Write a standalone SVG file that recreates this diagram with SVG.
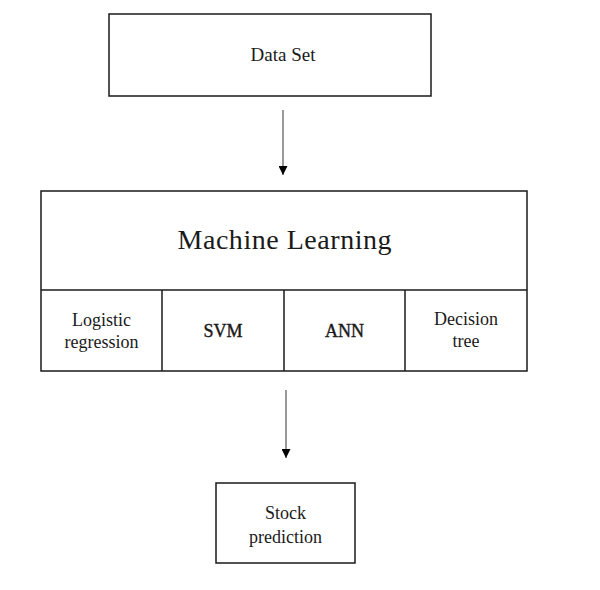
<svg xmlns="http://www.w3.org/2000/svg" width="600" height="590" viewBox="0 0 600 590">
<style>
.box{fill:#fff;stroke:#1a1a1a;stroke-width:1.5}
.ln{stroke:#1a1a1a;stroke-width:1.5}
.t{font-family:"Liberation Serif","Times New Roman",serif;fill:#1a1a1a;text-anchor:middle}
.s{font-size:18px}
.b{font-size:18px;stroke:#1a1a1a;stroke-width:0.4}
.con{stroke:#555;stroke-width:1.2;fill:none}
</style>
<defs>
<marker id="ah" viewBox="0 0 10 10" refX="10" refY="5" markerWidth="10" markerHeight="9" markerUnits="userSpaceOnUse" orient="auto">
<path d="M0,0 L10,5 L0,10 Z" fill="#000"/>
</marker>
</defs>
<rect width="600" height="590" fill="#fff"/>
<g id="dataset">
<rect class="box" x="109" y="14" width="322" height="82"/>
<text class="t" x="283" y="61" font-size="19">Data Set</text>
</g>
<g id="ml">
<rect class="box" x="41" y="191" width="486" height="180"/>
<line class="ln" x1="41" y1="290" x2="527" y2="290"/>
<line class="ln" x1="162" y1="290" x2="162" y2="371"/>
<line class="ln" x1="284" y1="290" x2="284" y2="371"/>
<line class="ln" x1="405" y1="290" x2="405" y2="371"/>
<text class="t" x="284.5" y="249" font-size="28" textLength="214" lengthAdjust="spacing">Machine Learning</text>
</g>
<g id="logistic">
<text class="t s" x="101.5" y="326">Logistic</text>
<text class="t s" x="101.5" y="348">regression</text>
</g>
<g id="svm">
<text class="t b" x="223" y="337">SVM</text>
</g>
<g id="ann">
<text class="t b" x="344.5" y="337">ANN</text>
</g>
<g id="dtree">
<text class="t s" x="466" y="325">Decision</text>
<text class="t s" x="466" y="347">tree</text>
</g>
<g id="stock">
<rect class="box" x="216" y="483" width="139" height="80"/>
<text class="t s" x="285.5" y="519">Stock</text>
<text class="t s" x="285.5" y="543">prediction</text>
</g>
<g id="connectors">
<line class="con" x1="283" y1="110" x2="283" y2="175" marker-end="url(#ah)"/>
<line class="con" x1="286" y1="390" x2="286" y2="458" marker-end="url(#ah)"/>
</g>
</svg>
